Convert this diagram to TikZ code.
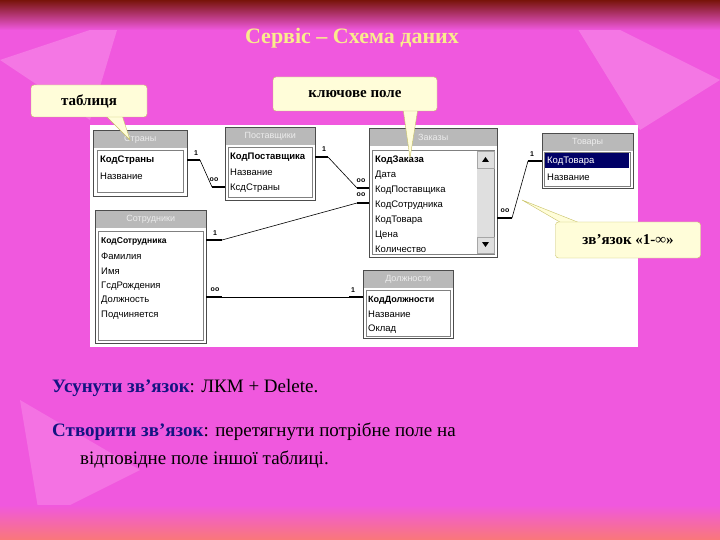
\documentclass[tikz,border=0pt]{standalone}
\usepackage{fontspec}
\setmainfont{Liberation Serif}
\newfontfamily\tabfont{Liberation Sans}
\definecolor{bgm}{RGB}{240,88,222}
\definecolor{bgl}{RGB}{248,140,232}
\definecolor{topc}{RGB}{120,20,10}
\definecolor{botc}{RGB}{250,120,120}
\definecolor{ttlc}{RGB}{250,236,140}
\definecolor{capblue}{RGB}{20,20,130}
\begin{document}
\begin{tikzpicture}[x=1pt,y=-1pt,
  tbl/.style={draw=gray!60!black,fill=white,line width=0.8pt},
  ttl/.style={fill=gray!55,anchor=north west,minimum height=17pt,inner sep=2pt,text=white!85!gray,font=\tabfont\fontsize{9}{10}\selectfont},
  fld/.style={anchor=west,inner sep=1pt,font=\tabfont\fontsize{9.5}{11}\selectfont},
  rel/.style={line width=0.6pt},
  relend/.style={line width=2.2pt},
  card/.style={font=\tabfont\bfseries\fontsize{7}{8}\selectfont,inner sep=1pt},
  callout/.style={fill=yellow!15!white,draw=yellow!50!gray,rounded corners=3pt,font=\bfseries\fontsize{15}{17}\selectfont,inner sep=4pt},
  captxt/.style={anchor=west,font=\fontsize{19}{23}\selectfont,inner sep=0pt}]
\useasboundingbox (0,0) rectangle (720,540);
\fill[bgm] (0,0) rectangle (720,540);
\fill[bgl,opacity=0.6] (0,60) -- (120,20) -- (90,120) -- cycle;
\fill[bgl,opacity=0.6] (560,0) -- (720,80) -- (640,130) -- cycle;
\fill[bgl,opacity=0.5] (20,400) -- (140,470) -- (40,520) -- cycle;
\shade[top color=topc,bottom color=bgm] (0,0) rectangle (720,30);
\shade[top color=bgm,bottom color=botc] (0,505) rectangle (720,540);
\node (title) [font=\bfseries\fontsize{22}{26}\selectfont,text=ttlc] at (352,38) {Сервіс – Схема даних};
% panel
\fill[white] (90,125) rectangle (638,347);
% tables
\newcommand\mktable[5]{% name, x1,y1,x2,y2
  \draw[tbl] (#2,#3) rectangle (#4,#5);}
\mktable{a}{93}{130}{187}{196}
\node (strT) [ttl,minimum width=93pt] at (93.5,130.5) {Страны\hfill};
\draw[gray] (97,150) rectangle (183,192);
\node (s1) [fld,font=\tabfont\bfseries\fontsize{9.5}{11}\selectfont] at (99,160) {КодСтраны};
\node (s2) [fld] at (99,176) {Название};

\mktable{b}{225}{127}{315}{200}
\node (posT) [ttl,minimum width=89pt] at (225.5,127.5) {Поставщики\hfill};
\draw[gray] (228,147) rectangle (312,197);
\node (p1) [fld,font=\tabfont\bfseries\fontsize{9.5}{11}\selectfont] at (229,157) {КодПоставщика};
\node (p2) [fld] at (229,172) {Название};
\node (p3) [fld] at (229,188) {КсдСтраны};

\mktable{c}{369}{128}{497}{257}
\node (zakT) [ttl,minimum width=127pt] at (369.5,128.5) {Заказы\hfill};
\draw[gray] (372,150) rectangle (494,254);
\fill[gray!25] (477,151) rectangle (494,253);
\draw[gray!70] (477,151) rectangle (494,168);
\draw[gray!70] (477,237) rectangle (494,253);
\fill[black] (482,162) -- (489,162) -- (485.5,157) -- cycle;
\fill[black] (482,242) -- (489,242) -- (485.5,247) -- cycle;
\node (z1) [fld,font=\tabfont\bfseries\fontsize{9.5}{11}\selectfont] at (374,160) {КодЗаказа};
\node (z2) [fld] at (374,175) {Дата};
\node (z3) [fld] at (374,190) {КодПоставщика};
\node (z4) [fld] at (374,205) {КодСотрудника};
\node (z5) [fld] at (374,220) {КодТовара};
\node (z6) [fld] at (374,235) {Цена};
\node (z7) [fld] at (374,249) {Количество};

\mktable{d}{542}{133}{633}{188}
\node (tovT) [ttl,minimum width=90pt] at (542.5,133.5) {Товары\hfill};
\draw[gray] (544,152) rectangle (630,186);
\fill[blue!40!black] (545,153) rectangle (629,168);
\node (t1) [fld,text=white] at (546,161) {КодТовара};
\node (t2) [fld] at (546,177) {Название};

\mktable{e}{95}{210}{206}{343}
\node (sotT) [ttl,minimum width=110pt] at (95.5,210.5) {Сотрудники\hfill};
\draw[gray] (98,231) rectangle (203,340);
\node (e1) [fld,font=\tabfont\bfseries\fontsize{8.5}{10}\selectfont] at (100,241) {КодСотрудника};
\node (e2) [fld] at (100,256) {Фамилия};
\node (e3) [fld] at (100,271) {Имя};
\node (e4) [fld] at (100,286) {ГсдРождения};
\node (e5) [fld] at (100,300) {Должность};
\node (e6) [fld] at (100,315) {Подчиняется};

\mktable{f}{363}{270}{453}{338}
\node (dolT) [ttl,minimum width=89pt] at (363.5,270.5) {Должности\hfill};
\draw[gray] (366,290) rectangle (450,336);
\node (f1) [fld,font=\tabfont\bfseries\fontsize{9}{11}\selectfont] at (367,300) {КодДолжности};
\node (f2) [fld] at (367,314) {Название};
\node (f3) [fld] at (367,329) {Оклад};

% relations
\coordinate (r1a) at (187,160); \coordinate (r1b) at (200,160);
\coordinate (r1c) at (212,187); \coordinate (r1d) at (225,187);
\draw[relend] (r1a) -- (r1b); \draw[relend] (r1c) -- (r1d);
\draw[rel] (r1b) -- (r1c);
\node[card] (c1) at (196,153) {1}; \node[card] (c2) at (214,180) {oo};

\coordinate (r2a) at (315,157); \coordinate (r2b) at (328,157);
\coordinate (r2c) at (357,188); \coordinate (r2d) at (369,188);
\draw[relend] (r2a) -- (r2b); \draw[relend] (r2c) -- (r2d);
\draw[rel] (r2b) -- (r2c);
\node[card] (c3) at (324,149) {1}; \node[card] (c4) at (361,181) {oo};

\coordinate (r3a) at (206,240); \coordinate (r3b) at (222,240);
\coordinate (r3c) at (357,203); \coordinate (r3d) at (369,203);
\draw[relend] (r3a) -- (r3b); \draw[relend] (r3c) -- (r3d);
\draw[rel] (r3b) -- (r3c);
\node[card] (c5) at (215,233) {1}; \node[card] (c6) at (361,195) {oo};

\coordinate (r4a) at (206,297); \coordinate (r4b) at (222,297);
\coordinate (r4c) at (349,297); \coordinate (r4d) at (363,297);
\draw[relend] (r4a) -- (r4b); \draw[relend] (r4c) -- (r4d);
\draw[rel] (r4b) -- (r4c);
\node[card] (c7) at (215,290) {oo}; \node[card] (c8) at (353,290) {1};

\coordinate (r5a) at (497,218); \coordinate (r5b) at (512,218);
\coordinate (r5c) at (528,161); \coordinate (r5d) at (542,161);
\draw[relend] (r5a) -- (r5b); \draw[relend] (r5c) -- (r5d);
\draw[rel] (r5b) -- (r5c);
\node[card] (c9) at (505,211) {oo}; \node[card] (c10) at (532,154) {1};

% callouts
\coordinate (p_tab) at (130,140);
\coordinate (p_key) at (410,158);
\coordinate (p_rel) at (522,200);
\fill[yellow!15!white,draw=yellow!50!gray] (105,115) -- (p_tab) -- (122,115) -- cycle;
\node[callout,minimum width=116pt,minimum height=32pt] (tab) at (89,101) {таблиця};
\fill[yellow!15!white,draw=yellow!50!gray] (403,108) -- (p_key) -- (418,108) -- cycle;
\node[callout,minimum width=164pt,minimum height=34pt] (key) at (355,94) {ключове поле};
\fill[yellow!15!white,draw=yellow!50!gray] (565,225) -- (p_rel) -- (585,225) -- cycle;
\node[callout,minimum width=145pt,minimum height=36pt] (rl) at (628,240) {зв'язок «1-∞»};

% captions
\node[captxt] (l1) at (52,388) {\textcolor{capblue}{\bfseries Усунути зв'язок}: ЛКМ + Delete.};
\node[captxt] (l2) at (52,432) {\textcolor{capblue}{\bfseries Створити зв'язок}: перетягнути потрібне поле на};
\node[captxt] (l3) at (80,460) {відповідне поле іншої таблиці.};
\end{tikzpicture}
\end{document}
